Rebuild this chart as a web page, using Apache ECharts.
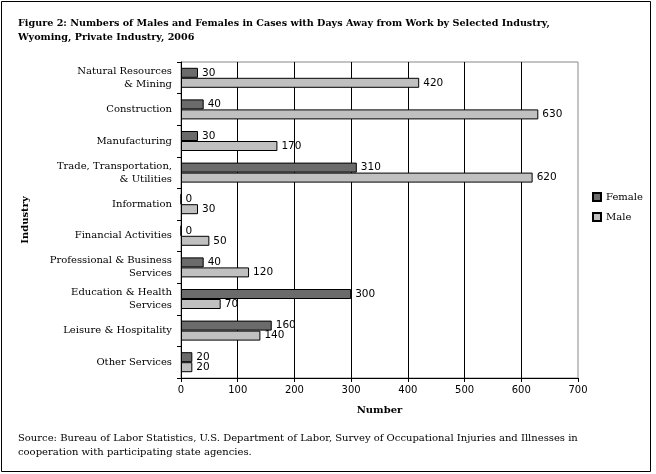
<!DOCTYPE html>
<html><head><meta charset="utf-8">
<script src="https://cdn.jsdelivr.net/npm/echarts@6/dist/echarts.min.js"></script>
<style>html,body{margin:0;padding:0;background:#fff}#c{width:656px;height:474px}</style>
</head><body><div id="c"></div>
<script>
const categories = ["Natural Resources\n& Mining","Construction","Manufacturing","Trade, Transportation,\n& Utilities","Information","Financial Activities","Professional & Business\nServices","Education & Health\nServices","Leisure & Hospitality","Other Services"];
const female = [30,40,30,310,0,0,40,300,160,20];
const male = [420,630,170,620,30,50,120,70,140,20];
const xTicks = [0,100,200,300,400,500,600,700];
const titleText = "Figure 2: Numbers of Males and Females in Cases with Days Away from Work by Selected Industry,\nWyoming, Private Industry, 2006";
const sourceText = "Source: Bureau of Labor Statistics, U.S. Department of Labor, Survey of Occupational Injuries and Illnesses in\ncooperation with participating state agencies.";

const serif = "DejaVu Serif";
const sans = "DejaVu Sans";
const chart = echarts.init(document.getElementById('c'), null, {renderer:'canvas'});
const lbl = {show:true, position:'right', distance:4, color:'#000', fontFamily:sans, fontSize:10.5};
chart.setOption({
  animation:false,
  backgroundColor:'#fff',
  grid:{left:181, right:78, top:62, bottom:96, show:true, borderColor:'#888', borderWidth:1, backgroundColor:'transparent'},
  legend:{orient:'vertical', left:587, top:187, itemWidth:8, itemHeight:8, itemGap:10, icon:'rect',
    textStyle:{fontFamily:serif, fontSize:10, color:'#000'}, data:['Female','Male']},
  xAxis:{type:'value', min:xTicks[0], max:xTicks[xTicks.length-1], interval:100,
    name:'Number', nameLocation:'middle', nameGap:27,
    nameTextStyle:{fontFamily:serif, fontWeight:'bold', fontSize:10, color:'#000'},
    axisLine:{show:true, lineStyle:{color:'#000'}},
    axisTick:{show:true, length:4, lineStyle:{color:'#000'}},
    axisLabel:{fontFamily:sans, fontSize:10, color:'#000', margin:7},
    splitLine:{show:true, showMaxLine:false, lineStyle:{color:'#000', width:1}}},
  yAxis:{type:'category', data:categories, inverse:true,
    name:'Industry', nameLocation:'middle', nameRotate:90, nameGap:151,
    nameTextStyle:{fontFamily:serif, fontWeight:'bold', fontSize:10, color:'#000'},
    axisLine:{show:true, lineStyle:{color:'#000'}},
    axisTick:{show:true, length:4, lineStyle:{color:'#000'}},
    axisLabel:{fontFamily:serif, fontSize:10, color:'#000', margin:9, lineHeight:13, align:'right'}},
  series:[
    {name:'Female', type:'bar', data:female, barWidth:10, barGap:'0%', barCategoryGap:'36%',
      itemStyle:{color:'#6b6b6b', borderColor:'#000', borderWidth:1}, label:Object.assign({},lbl)},
    {name:'Male', type:'bar', data:male, barWidth:10, barGap:'0%',
      itemStyle:{color:'#c0c0c0', borderColor:'#000', borderWidth:1}, label:Object.assign({},lbl)}
  ],
  graphic:[
    {type:'rect', shape:{x:1.5, y:1.5, width:649, height:470}, style:{fill:'none', stroke:'#000', lineWidth:1}, silent:true},
    {type:'text', left:18, top:16, style:{text:titleText, fontFamily:serif, fontWeight:'bold', fontSize:9.6, lineHeight:14, fill:'#000'}},
    {type:'text', left:18, top:431, style:{text:sourceText, fontFamily:serif, fontSize:10, lineHeight:14, fill:'#000'}}
  ]
});
</script></body></html>
